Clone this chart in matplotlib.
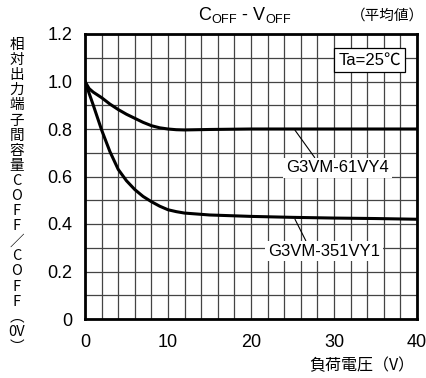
import matplotlib
matplotlib.use("Agg")
import matplotlib.pyplot as plt
from matplotlib.ticker import MultipleLocator, FuncFormatter

plt.rcParams["font.family"] = ["Liberation Sans", "Noto Sans CJK JP", "DejaVu Sans"]

# load voltage (V)
voltage = [0, 0.5, 1, 2, 3, 4, 5, 6, 7, 8, 9, 10, 11, 12, 15, 20, 25, 30, 35, 40]
# relative output capacitance Coff / Coff(0V)
g3vm_61vy4 = [1.0, 0.97, 0.955, 0.932, 0.905, 0.882, 0.862, 0.845, 0.828, 0.814,
              0.805, 0.80, 0.797, 0.796, 0.798, 0.80, 0.80, 0.80, 0.80, 0.80]
g3vm_351vy1 = [1.0, 0.95, 0.90, 0.796, 0.705, 0.630, 0.582, 0.545, 0.516, 0.494,
               0.475, 0.460, 0.452, 0.446, 0.438, 0.432, 0.428, 0.425, 0.423, 0.42]

x_ticks = [0, 10, 20, 30, 40]
y_ticks = [0, 0.2, 0.4, 0.6, 0.8, 1.0, 1.2]

fig = plt.figure(figsize=(4.27, 3.78), dpi=100)
ax = fig.add_axes([85 / 427, 59 / 378, 332 / 427, 285 / 378])

ax.plot(voltage, g3vm_61vy4, color="black", lw=2.2, zorder=3)
ax.plot(voltage, g3vm_351vy1, color="black", lw=2.2, zorder=3)

ax.set_xlim(0, 40)
ax.set_ylim(0, 1.2)
ax.set_xticks(x_ticks)
ax.set_yticks(y_ticks)
ax.xaxis.set_minor_locator(MultipleLocator(2))
ax.yaxis.set_minor_locator(MultipleLocator(0.1))
ax.yaxis.set_major_formatter(FuncFormatter(lambda v, _: "0" if v == 0 else f"{v:.1f}"))
ax.grid(which="both", color="#444444", lw=0.9, zorder=1)
ax.tick_params(which="both", length=0, labelsize=13)
ax.tick_params(axis="x", pad=11)
ax.tick_params(axis="y", pad=9)
for s in ax.spines.values():
    s.set_linewidth(2.0)
    s.set_zorder(4)

bbox = dict(facecolor="white", edgecolor="none", pad=2)
ax.annotate("G3VM-61VY4", xy=(25.3, 0.795), xytext=(30.4, 0.636),
            ha="center", va="center", fontsize=12, bbox=bbox, zorder=5,
            arrowprops=dict(arrowstyle="-", color="black", lw=0.8,
                            shrinkA=0, shrinkB=0, relpos=(0.3, 1.0)))
ax.annotate("G3VM-351VY1", xy=(25.3, 0.42), xytext=(28.8, 0.286),
            ha="center", va="center", fontsize=12, bbox=bbox, zorder=5,
            arrowprops=dict(arrowstyle="-", color="black", lw=0.8,
                            shrinkA=0, shrinkB=0, relpos=(0.35, 1.0)))
ax.text(34.3, 1.09, "Ta=25℃", ha="center", va="center", fontsize=12, zorder=5,
        family=["Liberation Sans", "Noto Sans CJK JP"],
        bbox=dict(facecolor="white", edgecolor="black", lw=0.9, pad=3))

fig.text(245 / 427, 1 - 15 / 378, r"C$_{\mathregular{OFF}}$ - V$_{\mathregular{OFF}}$",
         ha="center", va="center", fontsize=13)
fig.text(387 / 427, 1 - 16 / 378, "（平均値）", ha="center", va="center", fontsize=10.5,
         family=["Noto Sans CJK JP", "DejaVu Sans"])
fig.text(362 / 427, 1 - 366 / 378, "負荷電圧（V）", ha="center", va="center", fontsize=11.5,
         family=["Noto Sans CJK JP", "DejaVu Sans"])

ylabel_chars = list("相対出力端子間容量COFF／COFF") + ["︵", "0V", "︶"]
fig.text(17 / 427, 1 - 196 / 378, "\n".join(ylabel_chars), ha="center", va="center",
         fontsize=10.5, linespacing=1.1, family=["Noto Sans CJK JP", "DejaVu Sans"])

fig.savefig("out.png", dpi=100)
